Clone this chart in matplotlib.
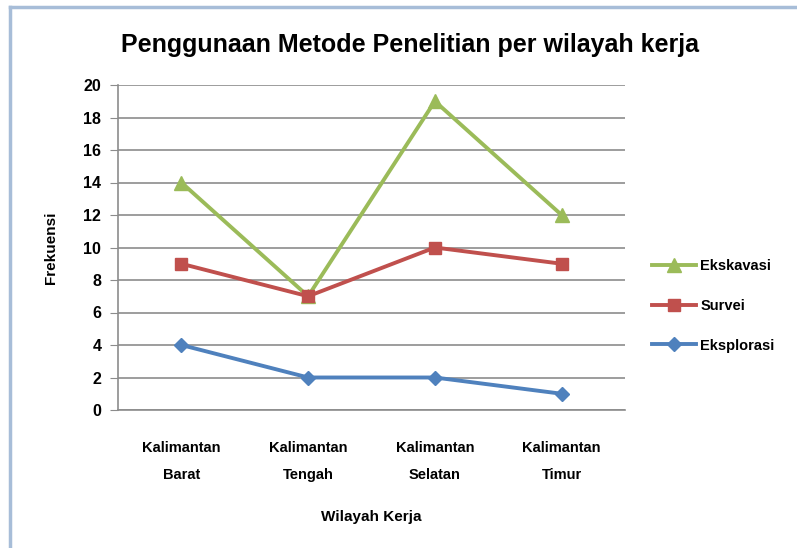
import matplotlib
matplotlib.use("Agg")
import matplotlib.pyplot as plt
from matplotlib.lines import Line2D

categories = ["Kalimantan\nBarat", "Kalimantan\nTengah", "Kalimantan\nSelatan", "Kalimantan\nTimur"]
ekskavasi = [14, 7, 19, 12]
survei = [9, 7, 10, 9]
eksplorasi = [4, 2, 2, 1]
yticks = [0, 2, 4, 6, 8, 10, 12, 14, 16, 18, 20]

W, H = 797, 548
fig = plt.figure(figsize=(W / 100, H / 100), dpi=100)
fig.patch.set_facecolor("white")

ax = fig.add_axes([118 / W, 1 - 410 / H, (625 - 118) / W, (410 - 85) / H])
x = list(range(len(categories)))

font = dict(family="Liberation Sans", fontweight="bold")

ax.plot(x, ekskavasi, color="#9BBB59", lw=2.8, marker="^", ms=10, label="Ekskavasi", zorder=3)
ax.plot(x, survei, color="#C0504D", lw=2.8, marker="s", ms=9, label="Survei", zorder=3)
ax.plot(x, eksplorasi, color="#4F81BD", lw=2.8, marker="D", ms=7, label="Eksplorasi", zorder=3)

ax.set_xlim(-0.5, len(categories) - 0.5)
ax.set_ylim(0, 20)
ax.set_yticks(yticks)
ax.set_yticklabels([str(v) for v in yticks], fontsize=11.5, **font)
ax.set_xticks(x)
ax.set_xticklabels(categories, fontsize=10.5, linespacing=2.2, **font)
ax.grid(axis="y", color="#8C8C8C", lw=1.2)
ax.set_axisbelow(True)
for s in ["top", "right"]:
    ax.spines[s].set_visible(False)
ax.spines["left"].set_color("#8C8C8C")
ax.spines["bottom"].set_color("#8C8C8C")
ax.spines["left"].set_linewidth(1.2)
ax.spines["bottom"].set_linewidth(1.2)
ax.tick_params(axis="y", length=6, color="#8C8C8C", pad=6)
ax.tick_params(axis="x", length=0, pad=22)

ax.set_xlabel("Wilayah Kerja", fontsize=11, labelpad=20, **font)
ax.set_ylabel("Frekuensi", fontsize=11, labelpad=18, **font)

fig.text(410 / W, 1 - 45 / H, "Penggunaan Metode Penelitian per wilayah kerja",
         ha="center", va="center", fontsize=18, **font)

leg = fig.legend(loc="center left", bbox_to_anchor=(652 / W, 1 - 306 / H), frameon=False,
                 prop={"family": "Liberation Sans", "weight": "bold", "size": 10.5},
                 labelspacing=1.75, handlelength=3.0, handletextpad=0.3,
                 borderaxespad=0, borderpad=0)

# figure border (left and top visible)
fig.add_artist(Line2D([10 / W, 10 / W], [0, 1 - 7 / H], color="#A7BDD8", lw=2.5, transform=fig.transFigure))
fig.add_artist(Line2D([10 / W, 1], [1 - 7 / H, 1 - 7 / H], color="#A7BDD8", lw=2.5, transform=fig.transFigure))

fig.savefig("out.png", dpi=100, facecolor="white")
